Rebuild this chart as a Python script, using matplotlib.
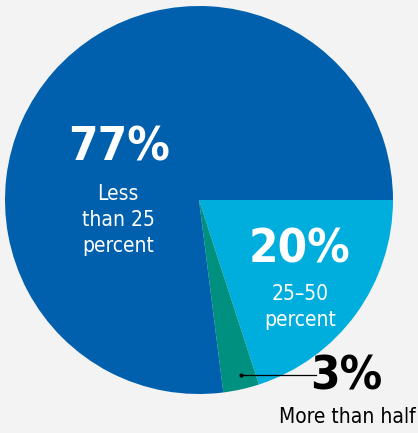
import matplotlib.pyplot as plt

# share of respondents, drawn clockwise from 3 o'clock
CATEGORIES = ['25-50 percent', 'More than half', 'Less than 25 percent']
SHARES = [20, 3, 77]
PCT_LABELS = ['20%', '3%', '77%']
SUB_LABELS = ['25\u201350\npercent', 'More than half', 'Less\nthan 25\npercent']
COLORS = ['#00aede', '#00907f', '#0060ad']

W, H = 418, 433
BG = '#f3f3f3'

plt.rcParams['font.family'] = ['DejaVu Sans']
plt.rcParams['font.stretch'] = 'condensed'

fig = plt.figure(figsize=(W / 100, H / 100), dpi=100, facecolor=BG)
ax = fig.add_axes([0, 0, 1, 1])
ax.set_facecolor(BG)


# pixel coords from top-left -> data coords
def px(x, y):
    return x, H - y


ax.pie(SHARES, colors=COLORS, startangle=0, counterclock=False,
       center=px(199, 200), radius=194, frame=True,
       wedgeprops=dict(linewidth=0))
ax.set_xlim(0, W)
ax.set_ylim(0, H)
ax.set_aspect('equal')
ax.axis('off')

big = dict(fontsize=34, fontweight='bold', fontstretch='condensed',
           ha='center', va='center')
small = dict(fontsize=15, fontstretch='condensed', ha='center', va='center',
             linespacing=1.38)

# big slice
ax.text(*px(119, 148), PCT_LABELS[2], color='white', **big)
ax.text(*px(118, 220), SUB_LABELS[2], color='white', **small)

# 20% slice
ax.text(*px(300, 250), PCT_LABELS[0], color='white', **big)
ax.text(*px(300, 307), SUB_LABELS[0], color='white', **small)

# 3% slice with leader line
x0, y0 = px(241, 375)
x1, y1 = px(316, 375)
ax.plot([x0, x1], [y0, y1], color='black', lw=0.9)
ax.plot(x0, y0, 'o', color='black', ms=2)
ax.text(*px(346, 377), PCT_LABELS[1], color='black', **big)
ax.text(*px(347, 417), SUB_LABELS[1], color='black', **small)

fig.savefig('out.png', dpi=100, facecolor=BG)
